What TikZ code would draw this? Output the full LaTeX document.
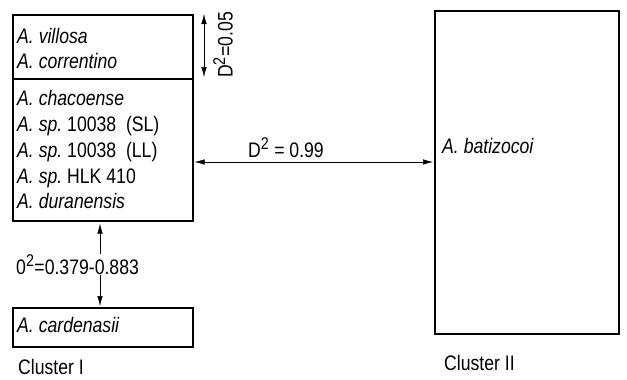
\documentclass[tikz,border=0pt]{standalone}
\usepackage{fontspec}
\setmainfont[FakeStretch=0.84]{Liberation Sans}
\usetikzlibrary{arrows.meta}
\tikzset{
  boxline/.style={draw=black, line width=1.6pt, inner sep=0pt, anchor=north west},
  lbl/.style={anchor=base west, inner sep=0pt, font=\fontsize{21}{21}\selectfont\itshape},
  rlbl/.style={inner sep=0pt, font=\fontsize{21}{21}\selectfont},
  sup/.style={},
  dist/.style={line width=0.5pt, {Latex[length=10pt,width=5.5pt]}-{Latex[length=10pt,width=5.5pt]}},
}
\newcommand{\sq}{\textsuperscript{\fontsize{17}{17}\selectfont 2}}
\begin{document}
\begin{tikzpicture}[x=1pt,y=-1pt]
\useasboundingbox (0,0) rectangle (627,380);
% Cluster I boxes
\node[boxline, minimum width=180pt, minimum height=64pt] (upper) at (12,14) {};
\node[boxline, minimum width=180pt, minimum height=142pt] (lower) at (12,78) {};
\node[boxline, minimum width=180pt, minimum height=39pt] (card) at (12,307) {};
% Cluster II box
\node[boxline, minimum width=184pt, minimum height=323pt] (bati) at (434,10) {};
% species
\node[lbl] (t1) at (17,43) {A. villosa};
\node[lbl] (t2) at (17,68) {A. correntino};
\node[lbl] (t3) at (17,105) {A. chacoense};
\node[lbl] (t4) at (17,131) {A. sp.\upshape\ 10038 \ (SL)};
\node[lbl] (t5) at (17,157) {A. sp.\upshape\ 10038 \ (LL)};
\node[lbl] (t6) at (17,183) {A. sp.\upshape\ HLK 410};
\node[lbl] (t7) at (17,208) {A. duranensis};
\node[lbl] (t8) at (17,332) {A. cardenasii};
\node[lbl] (t9) at (442,153) {A. batizocoi};
% cluster names
\node[rlbl, anchor=base west] (c1) at (18,374) {Cluster I};
\node[rlbl, anchor=base west] (c2) at (444,370) {Cluster II};
% distances
\coordinate (a1) at (204,14);
\coordinate (a2) at (204,77);
\draw[dist] (a1) -- (a2);
\node[rlbl, rotate=90] (d1) at (223,45) {D\sq=0.05};
\coordinate (h1) at (lower.east |- 0,162);
\coordinate (h2) at (bati.west |- 0,162);
\draw[dist] ([xshift=1pt]h1) -- ([xshift=-1pt]h2);
\node[rlbl, anchor=base west] (d2) at (248,157) {D\sq\ = 0.99};
\draw[dist] ([yshift=-2pt]lower.south -| 100,0) -- ([yshift=1pt]card.north -| 100,0);
\node[rlbl, anchor=base west, fill=white, inner sep=1pt] (d3) at (15,274) {0\sq=0.379-0.883};
\end{tikzpicture}
\end{document}
